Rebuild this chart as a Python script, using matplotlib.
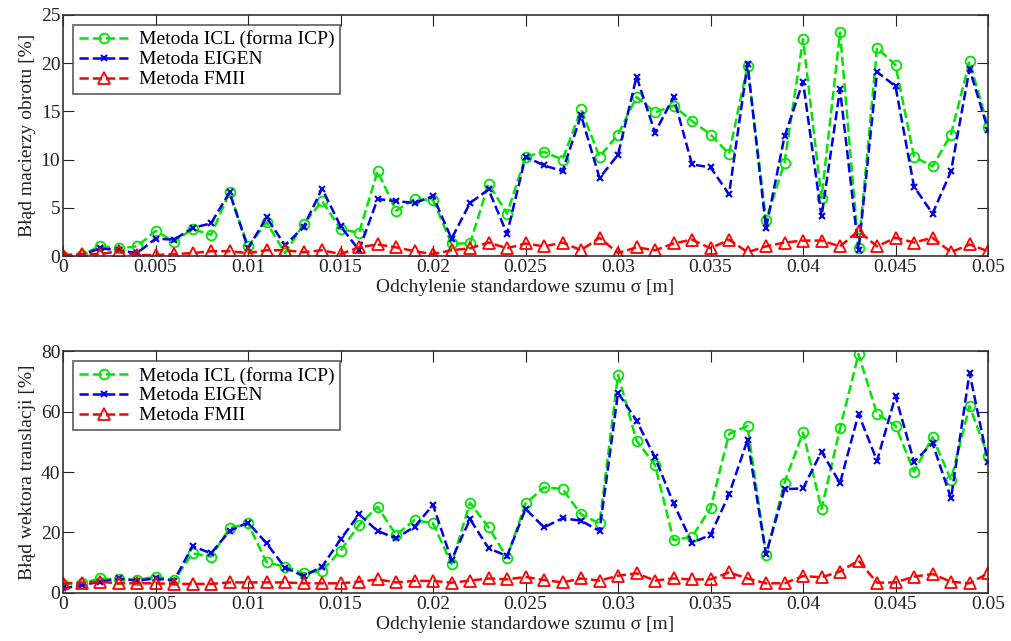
import numpy as np
import matplotlib
matplotlib.use("Agg")
import matplotlib.pyplot as plt

plt.rcParams["font.family"] = ["Liberation Serif", "DejaVu Serif"]

sigma = np.arange(51) * 0.001

# Błąd macierzy obrotu [%]
rot_icl = [0, 0.1, 1.0, 0.8, 1.0, 2.6, 1.5, 2.8, 2.2, 6.6,
           1.0, 3.5, 0.3, 3.3, 5.7, 2.8, 2.4, 8.8, 4.7, 5.9,
           5.8, 1.3, 1.3, 7.5, 4.4, 10.3, 10.8, 10.0, 15.2, 10.3,
           12.6, 16.5, 14.9, 15.6, 14.0, 12.6, 10.6, 19.7, 3.7, 9.7,
           22.5, 6.0, 23.2, 0.8, 21.6, 19.8, 10.3, 9.3, 12.6, 20.2, 13.4]
rot_eigen = [0, 0.1, 0.8, 0.6, 0.3, 1.8, 1.7, 2.9, 3.4, 6.6,
             0.8, 4.0, 1.1, 3.0, 7.0, 3.1, 0.6, 5.9, 5.7, 5.5,
             6.2, 1.8, 5.5, 6.9, 2.3, 10.3, 9.4, 8.8, 14.6, 8.1,
             10.5, 18.6, 12.8, 16.5, 9.5, 9.2, 6.4, 19.9, 2.9, 12.4,
             18.1, 4.1, 17.3, 0.6, 19.1, 17.6, 7.2, 4.4, 8.8, 19.4, 13.1]
rot_fmii = [0.1, 0.2, 0.2, 0.5, 0.1, 0.1, 0.2, 0.3, 0.5, 0.5,
            0.3, 0.6, 0.6, 0.4, 0.6, 0.2, 0.9, 1.2, 0.9, 0.5,
            0.2, 0.6, 0.8, 1.4, 0.8, 1.3, 1.0, 1.4, 0.6, 1.9,
            0.3, 0.9, 0.6, 1.3, 1.7, 0.8, 1.7, 0.4, 1.0, 1.4,
            1.6, 1.6, 1.0, 2.6, 1.0, 1.9, 1.4, 1.9, 0.4, 1.2, 0.5]

# Błąd wektora translacji [%]
tr_icl = [2.9, 3.2, 4.8, 4.5, 4.3, 5.4, 4.3, 13.1, 12.0, 21.4,
          23.0, 10.1, 8.7, 6.5, 7.4, 14.0, 22.5, 28.5, 19.2, 24.1,
          23.0, 9.6, 29.9, 21.7, 11.7, 29.6, 34.9, 34.4, 26.0, 23.0,
          72.1, 50.4, 42.3, 17.5, 18.6, 28.0, 52.6, 55.2, 12.6, 36.5,
          53.1, 27.8, 54.4, 79.0, 59.2, 55.3, 40.1, 51.5, 37.4, 61.8, 45.3]
tr_eigen = [1.5, 2.6, 3.7, 4.8, 4.1, 4.8, 4.1, 15.5, 13.1, 20.5,
            23.3, 16.4, 8.4, 5.6, 8.7, 17.7, 26.0, 20.5, 18.1, 21.9,
            29.1, 10.9, 24.4, 14.8, 12.2, 27.8, 21.7, 24.7, 23.9, 20.5,
            66.2, 57.0, 44.8, 29.6, 16.6, 19.2, 32.6, 50.6, 12.8, 34.3,
            34.6, 46.7, 36.3, 59.2, 43.7, 65.1, 43.4, 49.5, 31.3, 72.8, 43.2]
tr_fmii = [3.2, 3.4, 3.7, 3.2, 3.2, 3.2, 3.0, 3.0, 3.0, 3.5,
           3.5, 3.5, 3.5, 3.2, 3.2, 3.2, 3.7, 4.5, 3.5, 4.0,
           4.0, 3.4, 4.1, 4.8, 4.5, 5.3, 4.3, 3.5, 4.8, 4.1,
           5.7, 6.5, 4.1, 4.8, 4.5, 4.5, 6.8, 4.8, 3.2, 3.2,
           5.6, 5.2, 7.1, 10.7, 3.4, 3.5, 5.4, 6.3, 3.7, 3.2, 6.5]

labels = ["Metoda ICL (forma ICP)", "Metoda EIGEN", "Metoda FMII"]
xticks = [0, 0.005, 0.01, 0.015, 0.02, 0.025, 0.03, 0.035, 0.04, 0.045, 0.05]
xticklabels = ["0", "0.005", "0.01", "0.015", "0.02", "0.025", "0.03",
               "0.035", "0.04", "0.045", "0.05"]


def draw(ax, icl, eigen, fmii, ylim, yticks, ylabel):
    ax.plot(sigma, icl, "--", color="#00e600", lw=1.8, marker="o", ms=7,
            mfc="none", mec="#00e600", mew=1.3, label=labels[0])
    ax.plot(sigma, eigen, "--", color="#0000e6", lw=1.8, marker="x", ms=5,
            mew=1.5, label=labels[1])
    ax.plot(sigma, fmii, "--", color="#ff0000", lw=1.8, marker="^", ms=8,
            mfc="none", mec="#ff0000", mew=1.3, label=labels[2])
    ax.set_xlim(0, 0.05)
    ax.set_ylim(*ylim)
    ax.set_xticks(xticks)
    ax.set_xticklabels(xticklabels)
    ax.set_yticks(yticks)
    ax.tick_params(direction="in", top=True, right=True, labelsize=14,
                   length=8, pad=2, colors="#222222", labelcolor="#222222")
    ax.set_xlabel("Odchylenie standardowe szumu σ [m]", fontsize=14,
                  labelpad=2, color="#222222")
    ax.set_ylabel(ylabel, fontsize=14, labelpad=3, color="#222222")
    for s in ax.spines.values():
        s.set_color("#333333")
        s.set_linewidth(1.2)
    leg = ax.legend(loc="upper left", fontsize=14, frameon=True, fancybox=False,
                    edgecolor="#333333", borderpad=0.3, handlelength=2.6,
                    labelspacing=0.12, borderaxespad=0.5, handletextpad=0.5)
    leg.get_frame().set_linewidth(1.2)


fig = plt.figure(figsize=(10.12, 6.41), dpi=100)
ax1 = fig.add_axes([0.0623, 0.6006, 0.914, 0.376])
ax2 = fig.add_axes([0.0623, 0.0749, 0.914, 0.3775])

draw(ax1, rot_icl, rot_eigen, rot_fmii, (0, 25), [0, 5, 10, 15, 20, 25],
     "Błąd macierzy obrotu [%]")
draw(ax2, tr_icl, tr_eigen, tr_fmii, (0, 80), [0, 20, 40, 60, 80],
     "Błąd wektora translacji [%]")

fig.savefig("out.png", dpi=100)
